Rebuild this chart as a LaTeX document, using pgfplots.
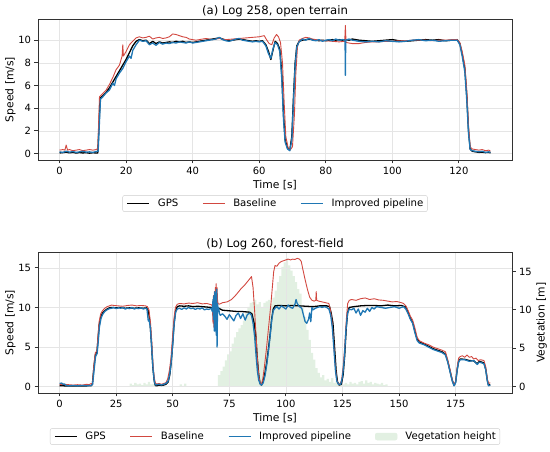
\documentclass[border=0pt]{standalone}
\usepackage{pgfplots}
\pgfplotsset{compat=1.18}
\usepackage{fontspec}
\setmainfont{DejaVu Sans}
\definecolor{gpsc}{RGB}{0,0,0}
\definecolor{basec}{RGB}{210,72,64}
\definecolor{impc}{RGB}{31,119,180}
\definecolor{vegc}{RGB}{226,240,226}
\definecolor{framec}{RGB}{50,50,50}
\pgfplotsset{
  mystyle/.style={
    scale only axis, width=474bp, height=141bp,
    tick pos=left, tick align=outside,
    major tick length=3.5bp,
    every tick/.style={framec, line width=0.8bp},
    axis line style={framec, line width=0.8bp},
    grid=major, grid style={black!10, line width=0.6bp},
    /pgf/number format/assume math mode=true,
    ticklabel style={font=\fontsize{10}{12}\selectfont},
    xlabel style={font=\fontsize{10.8}{12}\selectfont, at={(axis description cs:0.5,0)}, anchor=base, yshift=-29bp},
    ylabel style={font=\fontsize{10.8}{12}\selectfont, at={(axis description cs:-0.052,0.5)}, anchor=base, rotate=0},
    title style={font=\fontsize{11.7}{13}\selectfont, at={(axis description cs:0.5,1)}, anchor=base, yshift=-1.5bp},
    legend style={font=\fontsize{10.2}{12}\selectfont, draw=black!20, rounded corners=2bp,
      at={(0.5,-0.25)}, anchor=north, inner xsep=4bp, inner ysep=3.5bp,
      nodes={inner sep=0pt},
      /tikz/every odd column/.append style={column sep=8bp},
      /tikz/every even column/.append style={column sep=24bp}},
    legend image code/.code={\draw[#1] (0bp,0bp) -- (22bp,0bp);},
    xlabel={Time [s]}, ylabel={Speed [m/s]},
  },
  gpsl/.style={gpsc, line width=1.3bp, line join=round},
  basel/.style={basec, line width=0.9bp, line join=round},
  impl/.style={impc, line width=1.3bp, line join=round},
}
\begin{document}
\begin{tikzpicture}[x=1bp,y=1bp]
\path[use as bounding box] (0,0) rectangle (550,452);
% ---------- top ----------
\begin{axis}[mystyle, at={(38bp,292bp)}, anchor=south west,
  xmin=-6.475, xmax=135.975, ymin=-0.57, ymax=11.87,
  xtick={0,20,40,60,80,100,120}, ytick={0,2,4,6,8,10},
  title={(a) Log 258, open terrain},
  legend columns=3, legend entries={GPS, Baseline, Improved pipeline}]
\addplot[gpsl] coordinates {(0,0.05) (1,0.08) (2,0.12) (3,0.06) (4,0.1) (5,0.04) (6,0.09) (7,0.05) (8,0.08) (9,0.03) (10,0.07) (11,0.05) (11.5,0.06) (12.2,4.9) (13,5.1) (14,5.4) (15,5.8) (16,6.3) (17,6.8) (18,7.3) (19,7.8) (20,8.3) (21,8.9) (22,9.5) (23,9.9) (24,10.05) (25,9.95) (26,10.0) (27,9.7) (28,9.9) (29,9.7) (30,9.85) (31,9.75) (32,9.8) (33,9.85) (34,9.8) (35,9.9) (36,9.85) (37,9.9) (38,9.8) (39,9.85) (40,9.8) (41,9.85) (42,9.9) (43,9.95) (44,10.0) (45,10.05) (46,10.1) (47,10.15) (48,10.2) (49,10.1) (50,10.0) (51,9.95) (52,10.0) (53,10.05) (54,10.1) (55,10.05) (56,10.0) (57,9.95) (58,9.9) (59,9.95) (60,9.9) (61,9.95) (62,9.6) (62.8,9.0) (63.5,8.3) (64.2,9.2) (64.8,9.9) (65.5,9.7) (66.2,9.2) (66.8,7.0) (67.3,3.5) (67.8,1.2) (68.5,0.5) (69.2,0.3) (69.8,1.5) (70.3,5.0) (70.8,8.0) (71.3,9.5) (72,9.9) (73,10.0) (74,10.05) (75,10.1) (76,10.05) (77,10.0) (78,9.95) (79,10.0) (80,9.95) (81,10.0) (82,10.05) (83,10.0) (84,10.05) (85,10.0) (86,10.05) (87,10.0) (88,10.1) (89,10.05) (90,10.0) (92,9.95) (94,9.9) (96,9.95) (98,10.0) (100,10.05) (102,9.95) (104,9.9) (106,9.95) (108,10.0) (110,10.05) (112,10.0) (114,10.05) (116,9.95) (118,10.0) (119.5,10.05) (120.3,9.7) (121,8.8) (121.8,7.5) (122.4,5.0) (122.9,2.0) (123.4,0.4) (124,0.2) (125,0.15) (126,0.1) (127,0.12) (128,0.08) (129,0.1) (129.5,0.05)};
\addplot[basel] coordinates {(0,0.3) (1,0.35) (1.6,0.3) (2,0.75) (2.4,0.3) (3,0.35) (4,0.25) (5,0.3) (6,0.35) (7,0.25) (8,0.3) (9,0.35) (10,0.3) (11,0.35) (11.5,0.45) (12,5.0) (13,5.3) (14,5.6) (15,6.1) (16,6.7) (17,7.4) (18,7.8) (18.8,8.6) (19,9.6) (19.2,8.6) (20,9.0) (21,9.6) (22,9.9) (23,10.2) (24,10.3) (25,10.2) (26,10.25) (27,10.35) (28,10.1) (29,10.2) (30,10.25) (31,10.15) (32,10.2) (33,10.3) (34,10.55) (35,10.5) (36,10.4) (37,10.3) (38,10.25) (39,10.1) (40,10.05) (41,10.0) (42,10.05) (43,10.1) (44,10.15) (45,10.1) (46,10.05) (47,10.1) (48,10.15) (49,10.1) (50,10.05) (52,10.1) (54,10.15) (56,10.2) (58,10.25) (60,10.3) (61.5,10.4) (62.3,10.0) (63,9.7) (63.8,9.6) (64.5,10.2) (65.2,10.5) (65.8,10.3) (66.4,9.8) (67,8.0) (67.5,4.5) (68,1.5) (68.7,0.5) (69.4,0.35) (70,0.6) (70.6,3.5) (71,7.0) (71.5,9.4) (72,10.0) (73,10.15) (74,10.25) (75,10.2) (76,10.1) (77,10.05) (78,10.0) (80,9.95) (82,9.9) (84,9.85) (85.7,9.9) (85.9,11.3) (86.1,9.8) (87,9.75) (88,9.7) (90,9.7) (92,9.8) (94,9.85) (96,9.85) (98,9.9) (100,9.9) (102,9.95) (104,9.95) (106,10.0) (108,10.0) (110,10.0) (112,9.95) (114,10.0) (116,10.0) (118,10.05) (119.5,10.05) (120.3,9.8) (121,9.0) (121.8,7.8) (122.4,5.5) (122.9,2.5) (123.4,0.6) (124,0.4) (125,0.35) (126,0.3) (127,0.35) (128,0.25) (129,0.3) (129.5,0.2)};
\addplot[impl] coordinates {(0,0.15) (1,0.1) (2,0.2) (3,0.12) (4,0.18) (5,0.1) (6,0.15) (7,0.2) (8,0.12) (9,0.15) (10,0.1) (11,0.18) (11.6,0.2) (12.3,4.8) (13,5.0) (14,5.35) (15,5.6) (16,6.2) (16.5,6.0) (17,6.6) (18,7.1) (19,7.5) (20,8.1) (21,8.6) (21.5,8.4) (22,9.1) (23,9.6) (24,10.0) (25,9.9) (26,9.95) (27,9.6) (28,9.75) (29,9.55) (30,9.8) (31,9.65) (32,9.75) (33,9.7) (34,9.8) (35,9.75) (36,9.85) (37,9.8) (38,9.75) (39,9.85) (40,9.75) (41,9.8) (42,9.85) (43,9.9) (44,9.95) (45,10.0) (46,10.05) (47,10.1) (48,10.25) (49,10.05) (50,9.95) (51,9.9) (52,10.0) (53,10.1) (54,10.15) (55,10.0) (56,9.95) (57,9.9) (58,9.85) (59,9.9) (60,9.85) (61,9.9) (62,9.5) (62.8,8.8) (63.5,8.4) (64.2,9.3) (64.8,9.8) (65.5,9.6) (66.2,9.0) (66.8,6.5) (67.3,3.0) (67.8,1.0) (68.5,0.4) (69.2,0.25) (69.8,1.2) (70.3,4.6) (70.8,7.8) (71.3,9.4) (72,9.85) (73,10.1) (74,10.0) (75,10.15) (76,10.0) (77,9.95) (78,10.05) (79,9.9) (80,10.0) (81,10.05) (82,9.95) (83,10.1) (84,10.0) (85,10.05) (85.8,10.0) (85.9,6.9) (86,10.0) (87,10.1) (88,10.0) (89,9.95) (90,9.9) (92,9.85) (94,9.9) (96,9.85) (98,9.95) (100,9.9) (102,9.85) (104,9.9) (106,10.0) (108,10.05) (110,9.95) (112,10.0) (114,9.9) (116,9.95) (118,10.0) (119.5,10.0) (120.3,9.6) (121,8.6) (121.8,7.2) (122.4,4.6) (122.9,1.8) (123.4,0.35) (124,0.25) (125,0.2) (126,0.15) (127,0.2) (128,0.1) (129,0.15) (129.5,0.1)};
\end{axis}
% ---------- bottom: vegetation (right axis, drawn first) ----------
\begin{axis}[scale only axis, width=474bp, height=141bp, at={(38bp,59bp)}, anchor=south west,
  xmin=-9.52, xmax=199.9, ymin=-0.835, ymax=17.54,
  axis y line*=right, axis x line=none,
  ytick pos=right, tick align=outside, major tick length=3.5bp,
  every tick/.style={framec, line width=0.8bp},
  axis line style={framec, line width=0.8bp},
  ytick={0,5,10,15},
  /pgf/number format/assume math mode=true,
  ticklabel style={font=\fontsize{10}{12}\selectfont},
  ylabel style={font=\fontsize{10.8}{12}\selectfont, at={(axis description cs:1.069,0.5)}, anchor=base, rotate=0},
  ylabel={Vegetation [m]}]
\addplot[const plot, fill=vegc, draw=none] coordinates {(0,0) (30,0) (31,0.4) (32,0.2) (33,0.5) (34,0.3) (35,0.4) (36,0.2) (37,0.5) (38,0.3) (39,0.6) (40,0.3) (41,0.4) (42,0) (53,0.3) (54,0.1) (55,0.4) (56,0) (69,0) (70,1.5) (71,2.0) (72,2.6) (73,3.4) (74,4.2) (75,4.6) (76,5.6) (77,6.4) (78,7.1) (79,7.6) (80,8.0) (81,8.6) (82,9.6) (83,10.4) (84,10.9) (85,11.0) (86,11.3) (87,10.7) (88,11.0) (89,10.4) (90,10.9) (91,11.1) (92,11.3) (93,10.8) (94,11.6) (95,12.5) (96,13.6) (97,14.4) (98,15.6) (99,16.2) (100,16.7) (101,15.8) (102,15.1) (103,14.4) (104,13.6) (105,12.7) (106,12.1) (107,10.4) (108,9.1) (109,7.4) (110,6.1) (111,4.4) (112,3.5) (113,2.4) (114,1.8) (115,1.2) (116,1.5) (117,0.8) (118,1.0) (119,0.6) (120,1.1) (121,0.5) (122,0.7) (123,0.4) (124,0.6) (125,0.3) (126,0.5) (127,0.3) (128,0.6) (129,0.4) (130,0.5) (131,0.3) (132,0.6) (133,0.7) (134,0.4) (135,0.8) (136,0.5) (137,0.6) (138,0.3) (139,0.5) (140,0.4) (141,0.3) (142,0.5) (143,0.2) (144,0.3) (145,0) (191,0)} \closedcycle;
\end{axis}
% ---------- bottom: speed ----------
\begin{axis}[mystyle, at={(38bp,59bp)}, anchor=south west,
  xmin=-9.52, xmax=199.9, ymin=-0.8, ymax=17.0,
  xtick={0,25,50,75,100,125,150,175}, ytick={0,5,10,15},
  title={(b) Log 260, forest-field},
  legend columns=4]
\addplot[gpsl] coordinates {(0,0.1) (1,0.12) (2,0.1) (3,0.08) (4,0.1) (6,0.08) (8,0.1) (10,0.08) (12,0.1) (14,0.12) (14.5,0.3) (15.2,2.5) (15.8,4.0) (16.5,4.3) (17,6.0) (17.5,7.8) (18.2,8.8) (19,9.3) (20,9.6) (21,9.8) (22,9.95) (23,10.0) (25,9.95) (27,10.0) (29,9.9) (31,9.95) (33,9.9) (35,9.95) (37,9.9) (38.5,9.95) (39.3,9.5) (40,8.0) (40.6,5.5) (41.2,2.5) (41.8,0.8) (42.3,0.15) (43,0.1) (44,0.2) (45,0.15) (46,0.2) (47,0.3) (48,0.6) (48.7,1.5) (49.3,3.0) (50,5.5) (50.6,8.0) (51.3,9.6) (52,10.1) (53,10.2) (55,10.15) (57,10.2) (59,10.1) (61,10.15) (63,10.1) (65,10.05) (67,10.0) (69,9.95) (70,9.9) (71,9.8) (72,9.65) (74,9.6) (76,9.55) (78,9.5) (80,9.5) (82,9.45) (84,9.4) (85,9.2) (86,8.0) (86.7,6.5) (87.3,3.8) (88,1.5) (88.6,0.4) (89.2,0.2) (90,0.7) (90.8,1.8) (91.5,3.0) (92.3,4.8) (93,6.5) (93.7,8.5) (94.4,9.8) (95.2,10.2) (97,10.25) (100,10.2) (103,10.25) (106,10.2) (109,10.15) (112,10.1) (115,10.2) (118,10.2) (119.3,10.1) (120,9.3) (120.8,8.0) (121.5,5.0) (122.2,2.0) (122.8,0.6) (123.5,0.2) (124.5,0.3) (125.3,1.5) (126,4.0) (126.7,7.5) (127.3,9.4) (128,10.0) (130,10.1) (133,10.2) (136,10.25) (139,10.25) (142,10.2) (145,10.3) (148,10.2) (151,10.25) (153,10.05) (154,9.4) (155,8.6) (156,8.1) (157,7.0) (158,6.0) (159,5.6) (161,5.4) (163,5.1) (165,4.8) (167,4.6) (169,4.4) (170.5,4.1) (171.5,3.2) (172.5,2.0) (173.5,0.8) (174.3,0.15) (175,0.6) (175.7,2.2) (176.3,3.2) (177,3.5) (179,3.45) (181,3.3) (183,3.25) (184.5,2.9) (185.5,3.2) (187.5,3.0) (188.3,2.2) (189,0.8) (189.5,0.2) (190.3,0.25)};
\addplot[basel] coordinates {(0,0.3) (1,0.25) (2,0.3) (4,0.25) (6,0.2) (8,0.25) (10,0.2) (12,0.3) (13,0.25) (14,0.4) (14.5,0.3) (15.2,2.8) (15.8,4.3) (16.5,4.5) (17,6.5) (17.5,8.2) (18.2,9.2) (19,9.6) (20,9.9) (21,10.1) (22,10.2) (23,10.3) (24,10.25) (26,10.2) (28,10.15) (30,10.25) (32,10.3) (34,10.2) (36,10.25) (38,10.2) (38.8,10.1) (39.5,9.7) (40.2,8.0) (40.8,5.5) (41.3,2.8) (41.8,1.2) (42.4,0.4) (43,0.35) (44,0.4) (45,0.3) (46,0.4) (47,0.5) (47.8,1.0) (48.5,2.0) (49.2,3.5) (49.8,5.8) (50.5,8.5) (51.2,10.0) (52,10.4) (53,10.5) (55,10.45) (57,10.55) (59,10.5) (61,10.6) (63,10.45) (65,10.5) (67,10.35) (67.5,10.2) (67.8,8.0) (68.0,11.5) (68.2,7.5) (68.4,12.0) (68.6,9.0) (68.8,12.5) (69.0,9.5) (69.2,13.0) (69.4,10.0) (69.6,12.5) (69.8,11.0) (70,10.5) (70.5,10.4) (72,10.6) (74,10.7) (76,11.0) (78,11.6) (80,12.3) (82,12.9) (84,13.6) (84.8,13.9) (85.5,12.5) (86.2,9.5) (86.8,6.5) (87.4,3.5) (88,1.4) (88.6,0.5) (89.2,0.3) (89.8,1.0) (90.5,2.5) (91.3,4.5) (92,6.5) (92.7,8.5) (93.4,10.5) (94,12.5) (94.6,14.5) (95.2,15.3) (96,15.2) (97,15.6) (98,15.8) (99,15.9) (100,16.0) (101,16.1) (102,16.0) (103,16.1) (104,16.05) (105,16.2) (106,16.1) (106.8,15.8) (107.5,14.8) (108.5,13.5) (109.5,12.3) (110.5,11.3) (111.5,10.9) (112.5,10.8) (113.2,10.9) (113.4,12.0) (113.6,10.9) (114.5,10.8) (116,10.7) (117.5,10.6) (119,10.5) (119.6,9.8) (120.3,8.5) (121,6.0) (121.7,3.0) (122.4,1.0) (123,0.4) (123.8,0.3) (124.6,0.8) (125.3,2.5) (126,5.0) (126.7,8.5) (127.3,10.5) (128,10.9) (129,11.0) (131,10.9) (133,11.1) (135,11.2) (137,11.0) (139,11.1) (141,10.95) (143,10.9) (145,10.8) (147,10.7) (149,10.75) (151,10.6) (152,10.5) (153,10.2) (154,9.6) (155,8.9) (156,8.4) (157,7.4) (158,6.2) (159,5.8) (161,5.5) (163,5.3) (165,5.0) (167,4.8) (169,4.6) (170.5,4.4) (171.5,3.4) (172.5,2.2) (173.5,0.9) (174.3,0.2) (175,0.7) (175.7,2.5) (176.3,3.6) (177,3.8) (178,3.9) (179,3.7) (180,4.0) (181,3.7) (182,3.8) (183,3.5) (184,3.6) (185,3.3) (186,3.4) (187.5,3.3) (188.3,2.5) (189,1.0) (189.5,0.4) (190.3,0.5)};
\addplot[impl] coordinates {(0,0.4) (1,0.45) (1.5,0.3) (2,0.35) (3,0.15) (4,0.1) (6,0.15) (8,0.1) (10,0.15) (12,0.12) (14,0.15) (14.6,0.3) (15.3,2.2) (15.9,3.8) (16.6,4.2) (17.1,5.7) (17.6,7.5) (18.3,8.6) (19,9.1) (20,9.5) (21,9.7) (22,9.85) (23,9.9) (24,10.0) (25,9.85) (26,9.95) (27,9.9) (28,10.0) (29,9.8) (30,9.9) (31,9.85) (32,10.0) (33,9.8) (34,9.9) (35,9.85) (36,9.95) (37,9.8) (38,9.9) (38.6,9.85) (39.2,8.3) (39.5,8.5) (40.1,7.5) (40.7,5.0) (41.3,2.2) (41.9,0.6) (42.4,0.2) (43,0.25) (44,0.3) (45,0.2) (46,0.3) (47,0.4) (48,0.7) (48.7,1.6) (49.3,3.0) (50,5.3) (50.6,7.8) (51.3,9.4) (52,9.8) (53,9.9) (54,9.75) (55,9.95) (56,9.8) (57,10.0) (58,9.85) (59,9.9) (60,9.75) (61,9.9) (62,9.8) (63,9.95) (64,9.7) (65,9.8) (66,9.75) (67,9.9) (67.5,9.5) (67.8,11.0) (68.0,8.5) (68.2,11.5) (68.4,7.0) (68.6,12.0) (68.8,8.0) (69.0,11.8) (69.2,6.5) (69.4,12.3) (69.6,5.0) (69.8,10.5) (70,9.5) (70.3,10.0) (70.6,9.3) (71,9.0) (72,9.2) (73,8.9) (74,8.5) (75,9.1) (76,8.7) (77,8.3) (78,9.0) (79,9.3) (80,8.6) (81,9.2) (82,8.4) (83,9.1) (84,9.3) (84.8,9.0) (85.5,8.0) (86.2,6.3) (86.8,4.0) (87.4,2.0) (88,0.8) (88.7,0.3) (89.3,0.2) (90,0.5) (90.8,1.4) (91.5,2.7) (92.3,4.5) (93,6.3) (93.7,8.3) (94.4,9.6) (95.2,9.9) (96,10.1) (97,9.8) (98,10.2) (99,10.0) (100,9.8) (101,10.3) (102,10.0) (103,9.9) (104,10.4) (104.5,11.0) (105,10.5) (106,10.1) (107,9.9) (107.8,9.0) (108.5,8.2) (109.2,8.0) (110,8.5) (110.5,9.3) (111,8.2) (111.5,10.0) (112,9.7) (113,9.9) (114,10.0) (115,10.1) (116,10.0) (117,10.1) (118,10.0) (119,9.8) (119.8,9.0) (120.5,7.5) (121.2,4.8) (121.9,2.0) (122.5,0.7) (123.2,0.3) (124.2,0.3) (125,1.2) (125.8,3.5) (126.5,7.0) (127.2,9.2) (128,9.8) (129,9.7) (130,9.9) (131,9.3) (132,9.8) (133,9.0) (134,9.6) (135,9.4) (136,9.9) (137,9.5) (138,10.0) (139,9.8) (140,10.1) (142,10.0) (144,9.9) (146,10.0) (148,10.1) (150,9.9) (152,10.1) (153,9.8) (154,9.2) (155,8.5) (156,8.0) (157,6.8) (158,5.8) (159,5.5) (161,5.3) (163,5.0) (165,4.7) (167,4.5) (169,4.3) (170.5,4.0) (171.5,3.1) (172.5,1.9) (173.5,0.7) (174.3,0.1) (175,0.5) (175.7,2.1) (176.3,3.1) (177,3.4) (179,3.4) (181,3.2) (183,3.3) (184.5,2.8) (185.5,3.1) (187.5,2.9) (188.3,2.1) (189,0.7) (189.5,0.1) (190.3,0.2)};
\addlegendimage{legend image code/.code={\fill[vegc] (0bp,-3.5bp) rectangle (22bp,3.5bp);}}
\legend{GPS, Baseline, Improved pipeline, Vegetation height}
\end{axis}
\end{tikzpicture}
\end{document}
